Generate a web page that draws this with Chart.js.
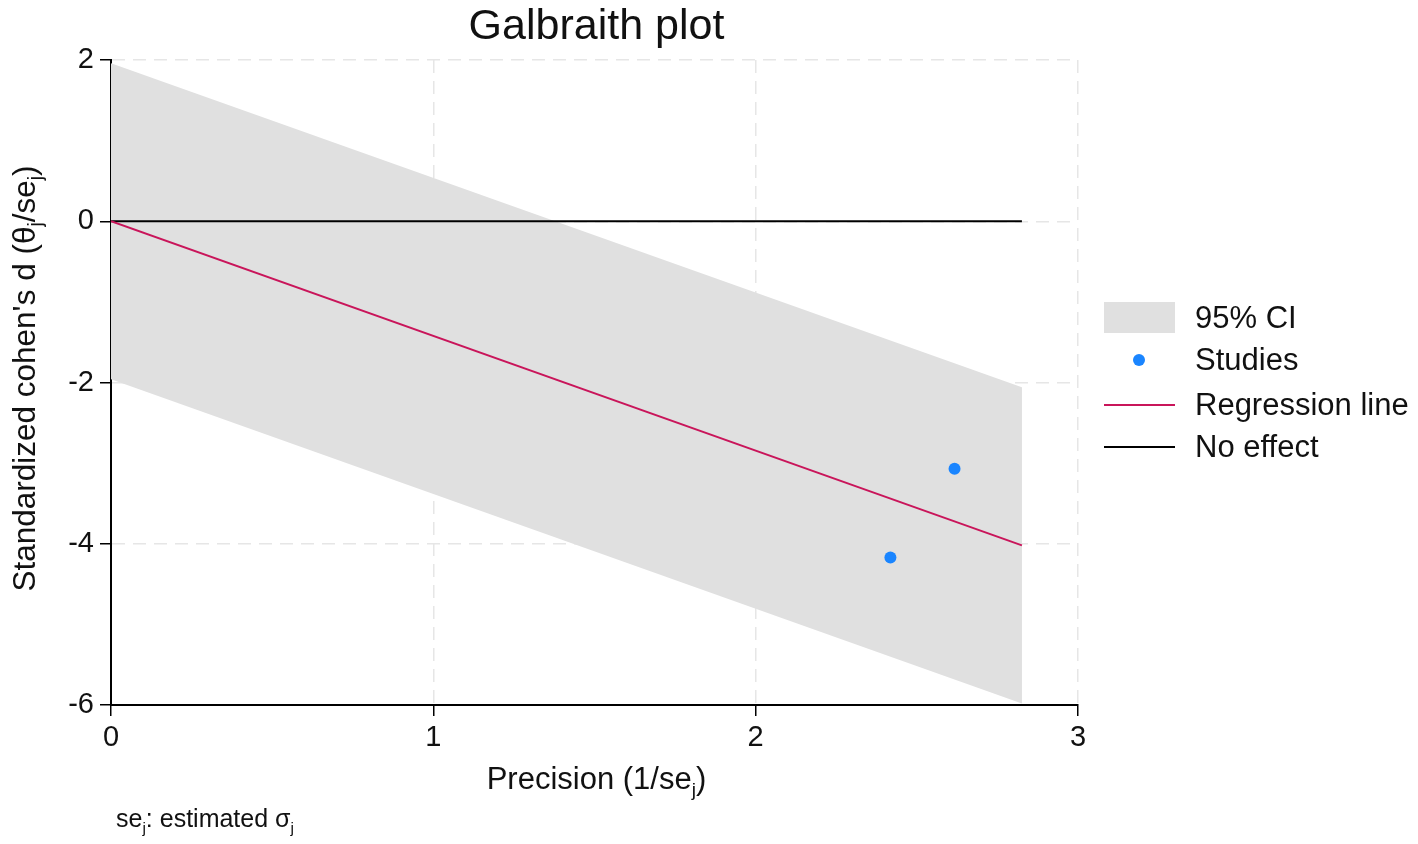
<!DOCTYPE html>
<html lang="en">
  <head>
    <meta charset="UTF-8" />
    <title>Galbraith plot</title>
    <script src="https://cdn.jsdelivr.net/npm/chart.js"></script>
    <style>
      html, body {
          margin: 0;
          padding: 0;
          background: #fff;
      }
      .chart-wrapper {
          width: 1418px;
          height: 844px;
      }
    </style>
  </head>
  <body>
    <div class="chart-wrapper">
      <canvas id="galbraith"></canvas>
    </div>

    <script>
      // values
      var precisionEnds = [0, 2.826];
      var ciUpper = [1.96, -2.06];
      var ciLower = [-1.96, -5.98];
      var regression = [0, -4.02];
      var noEffect = [0, 0];
      var studyPrecision = [2.418, 2.617];
      var studyZ = [-4.17, -3.07];
      var xTicks = [0, 1, 2, 3];
      var yTicks = [-6, -4, -2, 0, 2];

      var FONT = "'Liberation Sans', Arial, sans-serif";
      var bandColor = "#e0e0e0";
      var regColor = "#c9155a";
      var dotColor = "#1a85ff";

      function pts(ys) {
        return precisionEnds.map(function (x, i) {
          return { x: x, y: ys[i] };
        });
      }

      // draw a string with subscript parts, e.g. [["se"], ["j", true]]
      function richWidth(ctx, parts, size) {
        var w = 0;
        parts.forEach(function (p) {
          ctx.font = (p[1] ? size * 0.62 : size) + "px " + FONT;
          w += ctx.measureText(p[0]).width;
        });
        return w;
      }

      function drawRich(ctx, parts, x, y, size, align) {
        var w = richWidth(ctx, parts, size);
        var cx = align === "center" ? x - w / 2 : x;
        ctx.textBaseline = "alphabetic";
        ctx.textAlign = "left";
        parts.forEach(function (p) {
          var s = p[1] ? size * 0.62 : size;
          ctx.font = s + "px " + FONT;
          ctx.fillText(p[0], cx, p[1] ? y + size * 0.22 : y);
          cx += ctx.measureText(p[0]).width;
        });
      }

      var textPlugin = {
        id: "galbraithText",
        afterDraw: function (chart) {
          var ctx = chart.ctx;
          var a = chart.chartArea;
          var mid = (a.left + a.right) / 2;
          ctx.save();
          ctx.fillStyle = "#111";

          ctx.font = "43px " + FONT;
          ctx.textAlign = "center";
          ctx.textBaseline = "alphabetic";
          ctx.fillText("Galbraith plot", mid + 2, 39);

          drawRich(ctx, [["Precision (1/se"], ["j", true], [")"]], mid + 2, 789, 31, "center");

          ctx.save();
          ctx.translate(35, (a.top + a.bottom) / 2 - 4);
          ctx.rotate(-Math.PI / 2);
          drawRich(ctx, [["Standardized cohen's d (\u03b8"], ["j", true], ["/se"], ["j", true], [")"]], 0, 0, 31.5, "center");
          ctx.restore();

          drawRich(ctx, [["se"], ["j", true], [": estimated \u03c3"], ["j", true]], 116, 827, 25, "left");

          // legend
          var lx = a.right + 26;
          var tx = a.right + 117;
          var rows = [318, 360, 405, 447];
          ctx.fillStyle = bandColor;
          ctx.fillRect(lx, rows[0] - 16, 71, 31);
          ctx.fillStyle = dotColor;
          ctx.beginPath();
          ctx.arc(lx + 35, rows[1], 6, 0, Math.PI * 2);
          ctx.fill();
          ctx.lineWidth = 2;
          ctx.strokeStyle = regColor;
          ctx.beginPath();
          ctx.moveTo(lx, rows[2]);
          ctx.lineTo(lx + 71, rows[2]);
          ctx.stroke();
          ctx.strokeStyle = "#000";
          ctx.beginPath();
          ctx.moveTo(lx, rows[3]);
          ctx.lineTo(lx + 71, rows[3]);
          ctx.stroke();

          ctx.fillStyle = "#111";
          ctx.font = "31px " + FONT;
          ctx.textAlign = "left";
          ctx.textBaseline = "middle";
          chart.data.datasets
            .filter(function (d) { return d.label; })
            .forEach(function (d, i) {
              ctx.fillText(d.label, tx, rows[i] + 1);
            });
          ctx.restore();
        },
      };

      var gridOpts = {
        color: "#e6e6e6",
        lineWidth: 1.5,
        tickColor: "#000",
        tickLength: 11,
        tickBorderDash: [],
        tickWidth: 1.5,
      };
      var borderOpts = { display: true, color: "#000", width: 2, dash: [13, 8] };

      var ctx = document.getElementById("galbraith").getContext("2d");

      var chart = new Chart(ctx, {
        type: "scatter",
        data: {
          datasets: [
            {
              label: "95% CI",
              data: pts(ciUpper),
              showLine: true,
              borderWidth: 0,
              pointRadius: 0,
              backgroundColor: bandColor,
              fill: "+1",
            },
            {
              label: "",
              data: pts(ciLower),
              showLine: true,
              borderWidth: 0,
              pointRadius: 0,
              fill: false,
            },
            {
              label: "Studies",
              data: studyPrecision.map(function (x, i) {
                return { x: x, y: studyZ[i] };
              }),
              pointRadius: 6,
              pointBackgroundColor: dotColor,
              pointBorderWidth: 0,
            },
            {
              label: "Regression line",
              data: pts(regression),
              showLine: true,
              borderColor: regColor,
              borderWidth: 2,
              pointRadius: 0,
            },
            {
              label: "No effect",
              data: pts(noEffect),
              showLine: true,
              borderColor: "#000",
              borderWidth: 2,
              pointRadius: 0,
            },
          ],
        },
        options: {
          responsive: true,
          maintainAspectRatio: false,
          animation: false,
          layout: {
            padding: { left: 0, top: 60, right: 340, bottom: 0 },
          },
          scales: {
            x: {
              type: "linear",
              min: 0,
              max: 3,
              afterFit: function (s) { s.height = 139; },
              afterBuildTicks: function (s) {
                s.ticks = xTicks.map(function (v) { return { value: v }; });
              },
              grid: gridOpts,
              border: borderOpts,
              ticks: {
                color: "#111",
                padding: 5,
                font: { family: FONT, size: 29 },
              },
            },
            y: {
              type: "linear",
              min: -6,
              max: 2,
              afterFit: function (s) { s.width = 111; },
              afterBuildTicks: function (s) {
                s.ticks = yTicks.map(function (v) { return { value: v }; });
              },
              grid: gridOpts,
              border: borderOpts,
              ticks: {
                color: "#111",
                padding: 6,
                font: { family: FONT, size: 29 },
              },
            },
          },
          plugins: {
            legend: { display: false },
            tooltip: { enabled: false },
            filler: { drawTime: "beforeDatasetsDraw" },
          },
        },
        plugins: [textPlugin],
      });
    </script>
  </body>
</html>
